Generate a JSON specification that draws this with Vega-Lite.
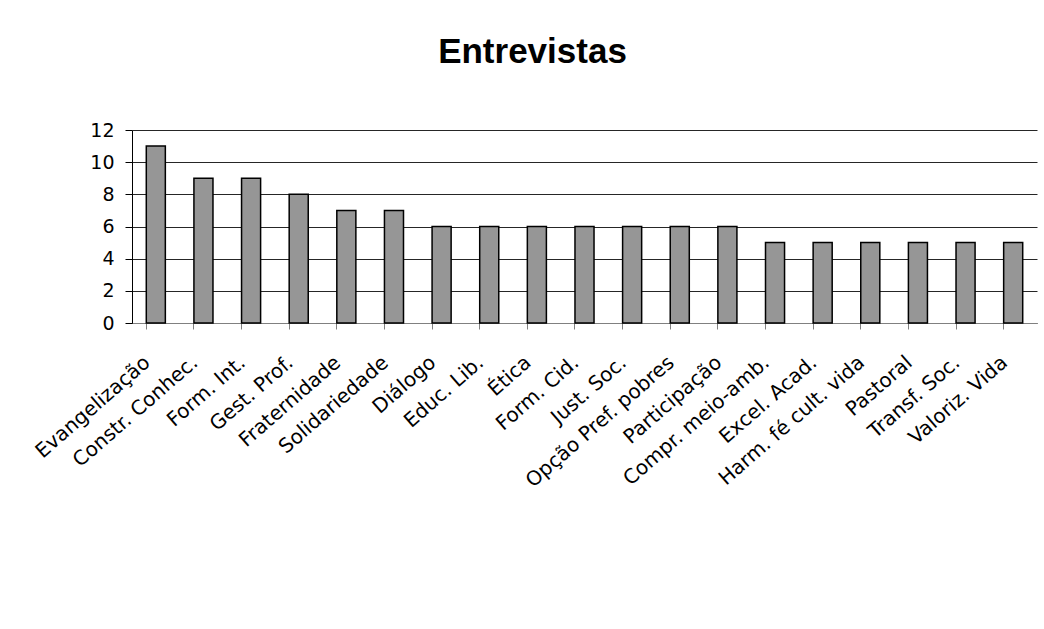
{
  "$schema": "https://vega.github.io/schema/vega-lite/v6.json",
  "width": 905,
  "height": 193,
  "autosize": {"type": "none"},
  "padding": {"left": 132, "top": 130, "right": 7, "bottom": 306},
  "background": "white",
  "title": {
    "text": "Entrevistas",
    "font": "Liberation Sans",
    "fontSize": 35,
    "fontWeight": "bold",
    "color": "black",
    "anchor": "middle",
    "frame": "group",
    "dx": -52,
    "offset": 51
  },
  "data": {
    "values": [
      {"tema": "Evangelização", "n": 11},
      {"tema": "Constr. Conhec.", "n": 9},
      {"tema": "Form. Int.", "n": 9},
      {"tema": "Gest. Prof.", "n": 8},
      {"tema": "Fraternidade", "n": 7},
      {"tema": "Solidariedade", "n": 7},
      {"tema": "Diálogo", "n": 6},
      {"tema": "Educ. Lib.", "n": 6},
      {"tema": "Ética", "n": 6},
      {"tema": "Form. Cid.", "n": 6},
      {"tema": "Just. Soc.", "n": 6},
      {"tema": "Opção Pref. pobres", "n": 6},
      {"tema": "Participação", "n": 6},
      {"tema": "Compr. meio-amb.", "n": 5},
      {"tema": "Excel. Acad.", "n": 5},
      {"tema": "Harm. fé cult. vida", "n": 5},
      {"tema": "Pastoral", "n": 5},
      {"tema": "Transf. Soc.", "n": 5},
      {"tema": "Valoriz. Vida", "n": 5}
    ]
  },
  "mark": {"type": "bar", "fill": "#969696", "stroke": "black", "strokeWidth": 1.5},
  "encoding": {
    "x": {
      "field": "tema",
      "type": "nominal",
      "sort": null,
      "scale": {"paddingInner": 0.6, "paddingOuter": 0.3},
      "axis": {
        "title": null,
        "labelAngle": -41,
        "labelAlign": "right",
        "labelBaseline": "top",
        "labelFont": "DejaVu Sans",
        "labelFontSize": 20,
        "labelColor": "black",
        "labelPadding": 23,
        "labelOffset": -15,
        "labelLimit": 0,
        "bandPosition": 0,
        "tickSize": 6,
        "tickColor": "#808080",
        "domainColor": "#808080",
        "grid": false,
        "labelOverlap": false
      }
    },
    "y": {
      "field": "n",
      "type": "quantitative",
      "scale": {"domain": [0, 12], "nice": false},
      "axis": {
        "title": null,
        "values": [0, 2, 4, 6, 8, 10, 12],
        "labelFont": "DejaVu Sans",
        "labelFontSize": 19,
        "labelColor": "black",
        "labelPadding": 11,
        "tickSize": 7,
        "tickColor": "black",
        "domainColor": "black",
        "grid": true,
        "gridColor": "black",
        "gridOpacity": 0.85
      }
    }
  },
  "config": {"view": {"stroke": null}}
}
